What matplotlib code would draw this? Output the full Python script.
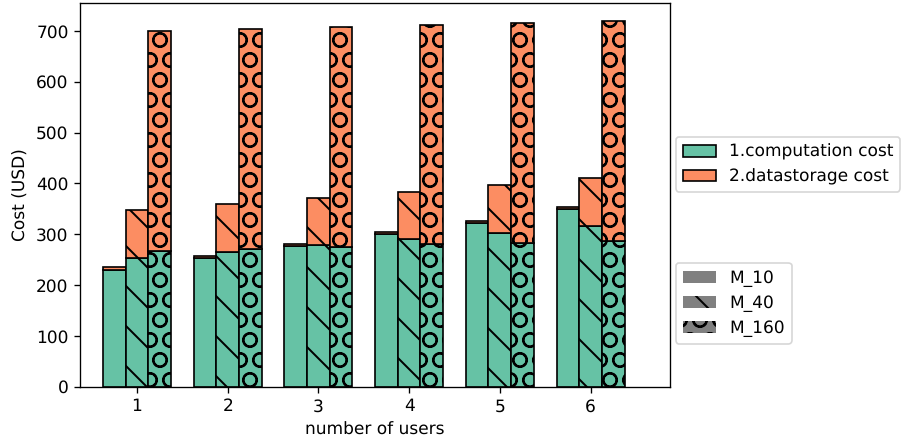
import numpy as np
import matplotlib
matplotlib.use("Agg")
import matplotlib.pyplot as plt
from matplotlib.patches import Patch

users = [1, 2, 3, 4, 5, 6]
m_labels = ["M_10", "M_40", "M_160"]
hatches = ["", "\\", "O"]

# computation / datastorage cost per model size
m10_comp = [229, 253, 276, 300, 322, 349]
m10_store = [6, 4, 5, 4, 4, 5]
m40_comp = [253, 266, 278, 291, 303, 316]
m40_store = [94, 93, 94, 93, 94, 94]
m160_comp = [267, 271, 275, 281, 283, 287]
m160_store = [433, 432, 432, 430, 432, 432]

comp = [m10_comp, m40_comp, m160_comp]
store = [m10_store, m40_store, m160_store]

c_comp = "#66c2a5"
c_store = "#fc8d62"

plt.rcParams["hatch.linewidth"] = 1.2
plt.rcParams["text.hinting"] = "no_hinting"
plt.rcParams["text.hinting_factor"] = 1

fig = plt.figure(figsize=(909 / 120, 448 / 120), dpi=120)
ax = fig.add_axes([0.0883, 0.1368, 0.6487, 0.8565])

x = np.array(users)
w = 0.25
for i in range(3):
    pos = x + (i - 1) * w
    ax.bar(pos, comp[i], w, color=c_comp, edgecolor="black", linewidth=1, hatch=hatches[i])
    ax.bar(pos, store[i], w, bottom=comp[i], color=c_store, edgecolor="black", linewidth=1, hatch=hatches[i])

ax.set_xticks(x)
ax.set_xticklabels([str(u) for u in users])
ax.set_xlim(0.375, 6.875)
ax.set_xlabel("number of users")
ax.set_ylabel("Cost (USD)")

h1 = [Patch(facecolor=c_comp, edgecolor="black", label="1.computation cost"),
      Patch(facecolor=c_store, edgecolor="black", label="2.datastorage cost")]
h2 = [Patch(facecolor="gray", hatch=hatches[i], label=m_labels[i]) for i in range(3)]

fig.legend(handles=h1, loc="upper left", bbox_to_anchor=(676 / 909, 1 - 137 / 448), borderaxespad=0)
fig.legend(handles=h2, loc="upper left", bbox_to_anchor=(676 / 909, 1 - 263 / 448), borderaxespad=0)

fig.savefig("out.png", dpi=120)
